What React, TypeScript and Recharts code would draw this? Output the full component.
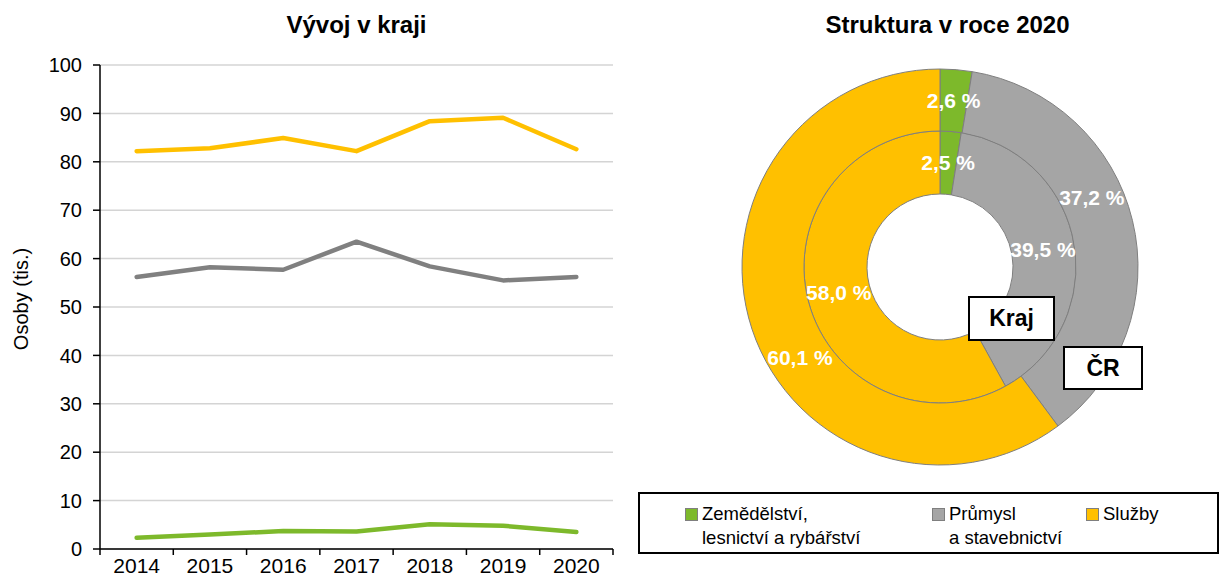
import { LineChart, Line, XAxis, YAxis, CartesianGrid, PieChart, Pie, Cell } from 'recharts'

const years = ['2014', '2015', '2016', '2017', '2018', '2019', '2020']
const zemedelstvi = [2.3, 3.0, 3.7, 3.6, 5.1, 4.8, 3.5]
const prumysl = [56.2, 58.2, 57.7, 63.5, 58.4, 55.5, 56.2]
const sluzby = [82.2, 82.8, 84.9, 82.2, 88.4, 89.1, 82.6]
const yTicks = [0, 10, 20, 30, 40, 50, 60, 70, 80, 90, 100]

const sectors = ['Zemědělství,\nlesnictví a rybářství', 'Průmysl\na stavebnictví', 'Služby']
const kraj2020 = [2.5, 39.5, 58.0]
const cr2020 = [2.6, 37.2, 60.1]

const lineColors = ['#7DB92B', '#808080', '#FFC000']
const pieColors = ['#7DB92B', '#A5A5A5', '#FFC000']
// label angle nudges for the outer ring (moved away from the boxes, like in the original)
const crLabelNudge = [0, 11, 14.7]

const FONT = '"Liberation Sans", Arial, sans-serif'
const PLOT_W = 513
const BAND = PLOT_W / years.length
const X_TICK_MARGIN = 9

const lineData = years.map((year, i) => ({
  year,
  zemedelstvi: zemedelstvi[i],
  prumysl: prumysl[i],
  sluzby: sluzby[i],
}))

const krajData = sectors.map((name, i) => ({ name, value: kraj2020[i] }))
const crData = sectors.map((name, i) => ({ name, value: cr2020[i] }))

const RAD = Math.PI / 180
const fmt = (v: number) => v.toFixed(1).replace('.', ',') + ' %'

function YearTick(props: any) {
  const { x, y, payload, index } = props
  const axisY = y - X_TICK_MARGIN
  return (
    <g>
      <line x1={x - BAND / 2} x2={x - BAND / 2} y1={axisY} y2={axisY + 6} stroke="#000" strokeWidth={1.5} />
      {index === years.length - 1 && (
        <line x1={x + BAND / 2} x2={x + BAND / 2} y1={axisY} y2={axisY + 6} stroke="#000" strokeWidth={1.5} />
      )}
      <text x={x} y={y} dy="0.71em" textAnchor="middle" fontSize={21} fontFamily={FONT} fill="#000">
        {payload.value}
      </text>
    </g>
  )
}

function makeLabel(nudges: number[]) {
  return (props: any) => {
    const { cx, cy, midAngle, innerRadius, outerRadius, index, value } = props
    const r = (innerRadius + outerRadius) / 2
    const a = (midAngle + nudges[index]) * RAD
    return (
      <text
        x={cx + r * Math.cos(a)}
        y={cy - r * Math.sin(a)}
        textAnchor="middle"
        dominantBaseline="central"
        fill="#fff"
        fontWeight="bold"
        fontSize={21}
        fontFamily={FONT}
      >
        {fmt(value)}
      </text>
    )
  }
}

const boxStyle: React.CSSProperties = {
  position: 'absolute',
  background: '#fff',
  border: '2px solid #000',
  boxSizing: 'border-box',
  display: 'flex',
  alignItems: 'center',
  justifyContent: 'center',
  fontWeight: 'bold',
  fontSize: 23,
}

export default function App() {
  return (
    <div style={{ position: 'absolute', left: 0, top: 0, width: 1223, height: 576, background: '#fff', fontFamily: FONT }}>
      <div style={{ position: 'absolute', left: 100, top: 11, width: PLOT_W, textAlign: 'center', fontWeight: 'bold', fontSize: 24 }}>
        Vývoj v kraji
      </div>
      <div
        style={{
          position: 'absolute',
          left: 21,
          top: 299,
          transform: 'translate(-50%, -50%) rotate(-90deg)',
          fontSize: 20,
          whiteSpace: 'nowrap',
        }}
      >
        Osoby (tis.)
      </div>
      <div style={{ position: 'absolute', left: 0, top: 0 }}>
        <LineChart width={620} height={576} data={lineData} margin={{ top: 65, right: 7, bottom: 0, left: 0 }}>
          <CartesianGrid vertical={false} stroke="#d4d4d4" strokeWidth={1.5} />
          <XAxis
            dataKey="year"
            height={27}
            padding={{ left: BAND / 2, right: BAND / 2 }}
            axisLine={{ stroke: '#000', strokeWidth: 1.5 }}
            tickLine={false}
            tickSize={0}
            tickMargin={X_TICK_MARGIN}
            tick={<YearTick />}
            interval={0}
          />
          <XAxis xAxisId="top" dataKey="year" orientation="top" height={0} tick={false} tickLine={false} axisLine={{ stroke: '#000', strokeWidth: 1.5 }} />
          <YAxis
            width={100}
            domain={[0, 100]}
            ticks={yTicks}
            interval={0}
            axisLine={{ stroke: '#000', strokeWidth: 1.5 }}
            tickLine={{ stroke: '#000', strokeWidth: 1.5 }}
            tickSize={7}
            tickMargin={11}
            tick={{ fill: '#000', fontSize: 20, fontFamily: FONT }}
          />
          <YAxis yAxisId="right" orientation="right" width={0} domain={[0, 100]} tick={false} tickLine={false} axisLine={{ stroke: '#000', strokeWidth: 1.5 }} />
          <Line dataKey="zemedelstvi" stroke={lineColors[0]} strokeWidth={4.5} dot={false} strokeLinecap="round" strokeLinejoin="round" isAnimationActive={false} />
          <Line dataKey="prumysl" stroke={lineColors[1]} strokeWidth={4.5} dot={false} strokeLinecap="round" strokeLinejoin="round" isAnimationActive={false} />
          <Line dataKey="sluzby" stroke={lineColors[2]} strokeWidth={4.5} dot={false} strokeLinecap="round" strokeLinejoin="round" isAnimationActive={false} />
        </LineChart>
      </div>

      <div style={{ position: 'absolute', left: 740, top: 11, width: 415, textAlign: 'center', fontWeight: 'bold', fontSize: 24 }}>
        Struktura v roce 2020
      </div>
      <div style={{ position: 'absolute', left: 620, top: 0 }}>
        <PieChart width={603} height={576} margin={{ top: 0, right: 0, bottom: 0, left: 0 }}>
          <Pie
            data={krajData}
            dataKey="value"
            cx={320}
            cy={267}
            innerRadius={73}
            outerRadius={136}
            startAngle={90}
            endAngle={-270}
            stroke="#7f7f7f"
            strokeWidth={1}
            label={makeLabel([0, 0, 0])}
            labelLine={false}
            isAnimationActive={false}
          >
            {krajData.map((d, i) => (
              <Cell key={d.name} fill={pieColors[i]} />
            ))}
          </Pie>
          <Pie
            data={crData}
            dataKey="value"
            cx={320}
            cy={267}
            innerRadius={136}
            outerRadius={198}
            startAngle={90}
            endAngle={-270}
            stroke="#7f7f7f"
            strokeWidth={1}
            label={makeLabel(crLabelNudge)}
            labelLine={false}
            isAnimationActive={false}
          >
            {crData.map((d, i) => (
              <Cell key={d.name} fill={pieColors[i]} />
            ))}
          </Pie>
        </PieChart>
      </div>

      <div style={{ ...boxStyle, left: 968, top: 296, width: 87, height: 45 }}>Kraj</div>
      <div style={{ ...boxStyle, left: 1063, top: 346, width: 80, height: 44 }}>ČR</div>

      <div
        style={{
          position: 'absolute',
          left: 638,
          top: 492,
          width: 581,
          height: 62,
          border: '2px solid #000',
          boxSizing: 'border-box',
          fontSize: 18.5,
        }}
      >
        {sectors.map((name, i) => (
          <div
            key={name}
            style={{ position: 'absolute', left: [45, 292, 446][i], top: 8, display: 'flex', alignItems: 'flex-start' }}
          >
            <span
              style={{
                display: 'inline-block',
                width: 11,
                height: 11,
                background: pieColors[i],
                border: '1px solid #7f7f7f',
                marginTop: 6,
                marginRight: 4,
              }}
            />
            <span style={{ whiteSpace: 'pre', lineHeight: '24px' }}>{name}</span>
          </div>
        ))}
      </div>
    </div>
  )
}
